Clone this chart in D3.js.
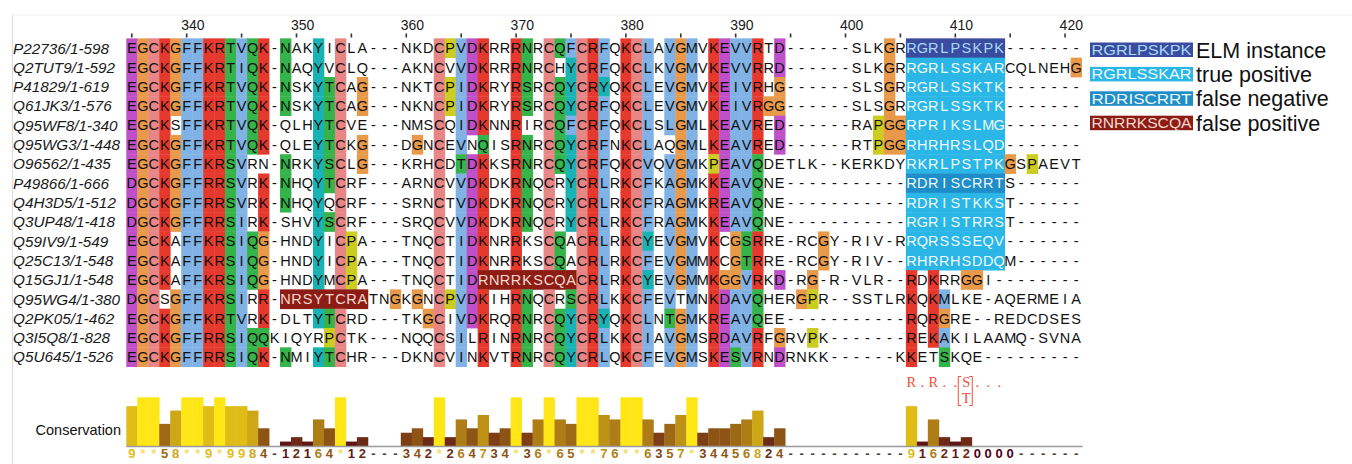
<!DOCTYPE html>
<html lang="en">
<head>
<meta charset="UTF-8">
<title>Alignment</title>
<script src="https://cdn.jsdelivr.net/npm/d3@7"></script>
<style>
  body { margin: 0; background: #fff; }
  text { font-family: "Liberation Sans", Arial, sans-serif; }
</style>
</head>
<body>
<div id="chart"></div>
<script>
// alignment data
const firstPos = 335;
const labels = ["P22736/1-598","Q2TUT9/1-592","P41829/1-619","Q61JK3/1-576","Q95WF8/1-340",
  "Q95WG3/1-448","O96562/1-435","P49866/1-666","Q4H3D5/1-512","Q3UP48/1-418","Q59IV9/1-549",
  "Q25C13/1-548","Q15GJ1/1-548","Q95WG4/1-380","Q2PK05/1-462","Q3I5Q8/1-828","Q5U645/1-526"];
const seqs = [
  "EGCKGFFKRTVQK-NAKYICLA---NKDCPVDKRRRNRCQFCRFQKCLAVGMVKEVVRTD------SLKGRRGRLPSKPK-------",
  "EGCKGFFKRTIQK-NAQYVCLQ---AKNCVVDKRRRNRCHYCRFQKCLKVGMVKEVVRRD------SLKGRRGRLSSKARCQLNEHG",
  "EGCKGFFKRTVQK-NSKYTCAG---NKTCPIDKRYRSRCQYCRYQKCLEVGMVKEIVRHG------SLSGRRGRLSSKTK-------",
  "EGCKGFFKRTVQK-NSKYTCAG---NKNCPIDKRYRSRCQYCRFQKCLEVGMVKEIVRGG------SLSGRRGRLSSKTK-------",
  "EGCKSFFKRTVQK-QLHYTCVE---NMSCQIDKNNRIRCQFCRFQKCLSLGMLKEAVRED------RAPGGRPRIKSLMG-------",
  "EGCKGFFKRTVQK-QLEYTCKG---DGNCEVNQISRNRCQYCRFNKCLAQGMLKEAVRED------RTPGGRHRHRSLQD-------",
  "EGCKGFFKRSVRN-NRKYSCLG---KRHCDTDKKSRNRCQYCRFQKCVQVGMKPEAVQDETLK--KERKDYRKRLPSTPKGSPAEVT",
  "DGCKGFFRRSVRK-NHQYTCRF---ARNCVVDKDKRNQCRYCRLRKCFKAGMKKEAVQNE-----------RDRISCRRTS------",
  "DGCKGFFRRSVRK-NHQYQCRF---SRNCTVDKDKRNQCRYCRLRKCFRAGMKREAVQNE-----------RDRISTKKST------",
  "DGCKGFFRRSIRK-SHVYSCRF---SRQCVVDKDKRNQCRYCRLRKCFRAGMKKEAVQNE-----------RGRISTRRST------",
  "EGCKAFFKRSIQG-HNDYICPA---TNQCTIDKNRRKSCQACRLRKCYEVGMVKCGSRRE-RCGY-RIV-RRQRSSSEQV-------",
  "EGCKAFFKRSIQG-HNDYICPA---TNQCTIDKNRRKSCQACRLRKCFEVGMMKCGTRRE-RCGY-RIV--RHRRHSDDQM------",
  "EGCKAFFKRSIQG-HNDYMCPA---TNQCTIDRNRRKSCQACRLRKCYEVGMMKGGVRKD-RG-R-VLR--RDKRRGGI--------",
  "DGCSGFFKRSIRR-NRSYTCRATNGKGNCPVDKIHRNQCRSCRLKKCFEVTMNKDAVQHERGPR--SSTLRKQKMLKE-AQERMEIA",
  "EGCKGFFKRTVRK-DLTYTCRD---TKGCIVDKRQRNRCQYCRYQKCLNTGMKREAVQEE-----------RQRGRE--REDCDSES",
  "EGCKGFFRRSIQQKIQYRPCTK---NQQCSILRINRNRCQYCRLKKCIAVGMSRDAVRFGRVPK-------REKAKILAAMQ-SVNA",
  "EGCKGFFRRSIQK-NMIYTCHR---DKNCVINKVTRNRCQYCRLQKCFEVGMSKESVRNDRNKK------KKETSKQE---------"
];
// residues that get Clustal colour in each column (G and P are always coloured)
const colored = [
  "ED","","C","K","","F","F","KR","R","TS",
  "VI","Q","KRQ","","N","","","Y","TS","C",
  "","","","","","","","","C","",
  "VIT","D","KRQ","","","R","NS","","C","Q",
  "FYS","C","R","FLY","","K","C","LVFYI","","VLAT",
  "","M","","KR","ED","VIAS","VST","RQ","","D",
  "","","","","","","","","","","",
  "RK","","KR","MAS",
  "","","","","","","","","","","",""
];
// [row, first column index, last column index, type]
const motifs = [
  [0,71,79,"elm"],[1,71,79,"tp"],[2,71,79,"tp"],[3,71,79,"tp"],[4,71,79,"tp"],[5,71,79,"tp"],
  [6,71,79,"tp"],[7,71,79,"fn"],[8,71,79,"tp"],[9,71,79,"tp"],[10,71,79,"tp"],[11,71,79,"tp"],
  [12,32,40,"fp"],[13,14,21,"fp"]
];
const conservation = "9**58**9*9984-12164*12---342*264734*36*65**76**6357*34456824-----------9162120000------";
const legendSeqs = ["RGRLPSKPK","RGRLSSKAR","RDRISCRRT","RNRRKSCQA"];
const legendNames = ["ELM instance","true positive","false negative","false positive"];
const legendTypes = ["elm","tp","fn","fp"];
const regexStart = 71;
const regexChars = ["R",".","R",".",".","S",".",".","."];

const W = 1352, H = 464;
const red = "#e6392e", blue = "#80b2e5", green = "#34b44a", magenta = "#c050c8",
      pink = "#e88585", orange = "#e8994a", yellow = "#cccc22", cyan = "#1ab3b3";
const resColor = {K:red,R:red,D:magenta,E:magenta,N:green,Q:green,S:green,T:green,
  A:blue,I:blue,L:blue,M:blue,F:blue,V:blue,W:blue,C:pink,H:cyan,Y:cyan,G:orange,P:yellow};
const motifFill = {elm:"#3a4c9f", tp:"#2ab6e6", fn:"#1f8dc8", fp:"#8c1c14"};
const motifText = {elm:"#a9d8f4", tp:"#eef9fd", fn:"#eef7fc", fp:"#f5d8cf"};

const nCol = seqs[0].length;
const x = d3.scaleLinear().domain([0, nCol]).range([126.3, 126.3 + nCol * 10.98]);
const cw = x(1) - x(0);
const y = d3.scaleBand().domain(d3.range(seqs.length)).range([38.35, 38.35 + seqs.length * 19.31]);
const yc = d3.scaleLinear().domain([0, 11]).range([446, 397.3]);

const svg = d3.select("#chart").append("svg").attr("width", W).attr("height", H);
svg.append("rect").attr("width", W).attr("height", H).attr("fill", "#fff");
svg.append("line").attr("x1", 12.5).attr("x2", 12.5).attr("y1", 15).attr("y2", H)
  .attr("stroke", "#dcdcdc");
svg.append("line").attr("x1", 12.5).attr("x2", W).attr("y1", 15).attr("y2", 15)
  .attr("stroke", "#f0f0f0");

// ruler
const positions = d3.range(nCol).map(i => firstPos + i);
svg.selectAll(".tick").data(positions.filter(p => p % 5 === 0)).enter().append("line")
  .attr("x1", p => x(p - firstPos + 0.5)).attr("x2", p => x(p - firstPos + 0.5))
  .attr("y1", 33.5).attr("y2", 37.5).attr("stroke", "#333").attr("stroke-width", 1.6);
svg.selectAll(".rnum").data(positions.filter(p => p % 10 === 0)).enter().append("text")
  .attr("x", p => x(p - firstPos)).attr("y", 30)
  .attr("font-size", 14).attr("fill", "#1a1a1a").text(p => p);

// cells
const cells = [];
seqs.forEach((s, r) => {
  s.split("").forEach((c, i) => {
    let fill = null, tcol = "#111";
    const m = motifs.find(m => m[0] === r && i >= m[1] && i <= m[2]);
    if (m) { fill = motifFill[m[3]]; tcol = motifText[m[3]]; }
    else if (c === "G" || c === "P") fill = resColor[c];
    else if (c !== "-" && (colored[i] || "").includes(c)) fill = resColor[c];
    cells.push({r, i, c, fill, tcol});
  });
});
svg.append("g").selectAll("rect").data(cells.filter(d => d.fill)).enter().append("rect")
  .attr("x", d => x(d.i)).attr("y", d => y(d.r))
  .attr("width", cw + 0.4).attr("height", y.bandwidth() + 0.4)
  .attr("fill", d => d.fill);
svg.append("g").selectAll("text").data(cells).enter().append("text")
  .attr("x", d => x(d.i + 0.5)).attr("y", d => y(d.r) + y.bandwidth() / 2 + 5.2)
  .attr("text-anchor", "middle").attr("font-size", 14.5).attr("fill", d => d.tcol)
  .text(d => d.c);

// sequence names
svg.append("g").selectAll("text").data(labels).enter().append("text")
  .attr("x", 13).attr("y", (d, i) => y(i) + y.bandwidth() / 2 + 5.5)
  .attr("font-size", 15.3).attr("font-style", "italic").attr("fill", "#1a1a1a")
  .text(d => d);

// legend
const lg = svg.append("g");
legendSeqs.forEach((s, k) => {
  const ty = 42.5 + k * 24.4;
  lg.append("rect").attr("x", 1090).attr("y", ty).attr("width", 103).attr("height", 14.5)
    .attr("fill", motifFill[legendTypes[k]]);
  lg.append("text").attr("x", 1091.5).attr("y", ty + 12.4).attr("font-size", 14)
    .attr("textLength", 100).attr("lengthAdjust", "spacingAndGlyphs")
    .attr("fill", motifText[legendTypes[k]]).text(s);
  lg.append("text").attr("x", 1196).attr("y", ty + 15)
    .attr("font-size", 21.5).attr("fill", "#111").text(legendNames[k]);
});

// conservation
const cons = conservation.split("").map((c, i) => ({i, c, v: c === "*" ? 11 : (c === "-" ? null : +c)}));
const consColor = v => {
  const t = v / 11;
  return d3.rgb(77 + 178 * t, 230 * t, 22).formatHex();
};
svg.append("g").selectAll("rect").data(cons.filter(d => d.v)).enter().append("rect")
  .attr("x", d => x(d.i)).attr("y", d => yc(d.v))
  .attr("width", cw + 0.4).attr("height", d => yc(0) - yc(d.v))
  .attr("fill", d => consColor(d.v));
svg.append("line").attr("x1", x(0)).attr("x2", x(nCol) + 1).attr("y1", 446.5).attr("y2", 446.5)
  .attr("stroke", "#9a9a9a").attr("stroke-width", 1.5);
svg.append("g").selectAll("text").data(cons).enter().append("text")
  .attr("x", d => x(d.i + 0.5)).attr("y", 457.5).attr("text-anchor", "middle")
  .attr("font-size", 13).attr("font-weight", "bold")
  .attr("fill", d => d.v === null ? "#4a3a30" : (d.v === 11 ? "#f2e070" : consColor(d.v)))
  .text(d => d.c);
svg.append("text").attr("x", 121).attr("y", 435).attr("text-anchor", "end")
  .attr("font-size", 14.5).attr("fill", "#111").text("Conservation");

// motif pattern above the conservation bars
const rg = svg.append("g").attr("fill", "#f04e3a").attr("font-size", 14.5);
regexChars.forEach((c, k) => {
  rg.append("text").attr("x", x(regexStart + k + 0.5)).attr("y", 387)
    .attr("text-anchor", "middle").style("font-family", "'Liberation Serif', serif").text(c);
});
const bi = regexStart + regexChars.indexOf("S");
rg.append("text").attr("x", x(bi + 0.5)).attr("y", 403).attr("text-anchor", "middle")
  .style("font-family", "'Liberation Serif', serif").text("T");
const bl = x(bi) - 2.5, br = x(bi + 1) + 0.5;
rg.append("path").attr("fill", "none").attr("stroke", "#f04e3a").attr("stroke-width", 1)
  .attr("d", `M${bl + 3},376.5H${bl}V405.5H${bl + 3}M${br - 3},376.5H${br}V405.5H${br - 3}`);
</script>
</body>
</html>
